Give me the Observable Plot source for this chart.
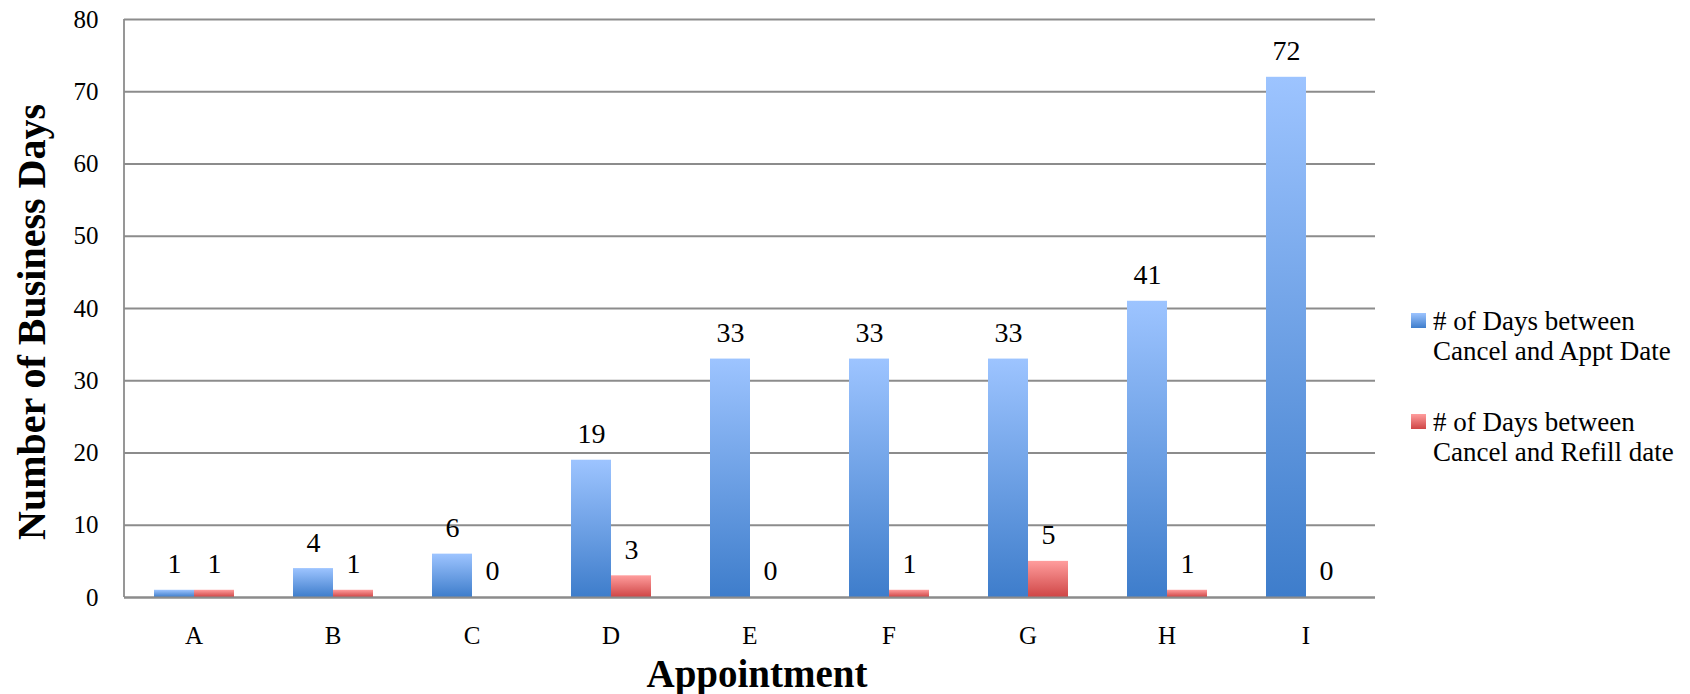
<!DOCTYPE html>
<html>
<head>
<meta charset="utf-8">
<script src="https://cdn.jsdelivr.net/npm/d3@7"></script>
<script src="https://cdn.jsdelivr.net/npm/@observablehq/plot@0.6"></script>
<style>
  html, body { margin: 0; padding: 0; background: #fff; overflow: hidden; }
  #wrap { position: relative; width: 1690px; height: 694px; font-family: "Liberation Serif", serif; }
  #chart svg { display: block; }
  .ytitle { position: absolute; left: 31px; top: 322px; transform: translate(-50%, -50%) rotate(-90deg); font-weight: bold; font-size: 40px; white-space: nowrap; color: #000; }
  .xtitle { position: absolute; left: 757px; top: 673px; transform: translate(-50%, -50%); font-weight: bold; font-size: 39px; white-space: nowrap; color: #000; }
  .legend { position: absolute; left: 1411px; top: 0; font-size: 27px; line-height: 30px; color: #000; }
  .legend .item { position: absolute; padding-left: 22px; white-space: nowrap; }
  .legend .sw { position: absolute; left: 0; top: 7px; width: 15px; height: 15px; }
</style>
</head>
<body>
<div id="wrap">
  <div id="chart"></div>
  <div class="ytitle">Number of Business Days</div>
  <div class="xtitle">Appointment</div>
  <div class="legend" id="legend"></div>
</div>
<script>
const categories = ["A", "B", "C", "D", "E", "F", "G", "H", "I"];
const seriesNames = ["# of Days between Cancel and Appt Date", "# of Days between Cancel and Refill date"];
const apptDays = [1, 4, 6, 19, 33, 33, 33, 41, 72];
const refillDays = [1, 1, 0, 3, 0, 1, 5, 1, 0];
const yTicks = [0, 10, 20, 30, 40, 50, 60, 70, 80];

const seriesKeys = ["appt", "refill"];
const gradIds = {appt: "gradBlue", refill: "gradRed"};

const rows = [];
categories.forEach((c, i) => {
  rows.push({cat: c, series: "appt", value: apptDays[i]});
  rows.push({cat: c, series: "refill", value: refillDays[i]});
});

const chart = Plot.plot({
  width: 1690,
  height: 694,
  marginLeft: 124,
  marginRight: 315,
  marginTop: 19,
  marginBottom: 97,
  style: {fontFamily: "Liberation Serif, serif", color: "#000", background: "#fff"},
  fx: {domain: categories, padding: 0, axis: null, label: null},
  x: {domain: seriesKeys, paddingInner: 0, paddingOuter: 0.72, axis: null},
  y: {domain: [0, 80], axis: null},
  marks: [
    Plot.gridY(yTicks, {stroke: "#8c8c8c", strokeOpacity: 1, strokeWidth: 1.8}),
    Plot.axisY(yTicks, {tickSize: 0, tickPadding: 26, fontSize: 25, label: null}),
    Plot.axisFx({anchor: "bottom", tickSize: 0, tickPadding: 29, fontSize: 25, label: null}),
    Plot.barY(rows, {fx: "cat", x: "series", y: "value", fill: d => `url(#${gradIds[d.series]})`, filter: d => d.value > 0, style: "filter: url(#shadow)"}),
    Plot.text(rows, {fx: "cat", x: "series", y: "value", text: d => String(d.value), dy: -26, fontSize: 28, fill: "#000"}),
    Plot.ruleY([0], {stroke: "#8c8c8c", strokeWidth: 1.8})
  ]
});

document.getElementById("chart").appendChild(chart);

// defs: gradients and shadow
const svg = d3.select(chart);
const defs = svg.insert("defs", ":first-child");
function grad(id, top, bottom) {
  const g = defs.append("linearGradient").attr("id", id).attr("x1", 0).attr("y1", 0).attr("x2", 0).attr("y2", 1);
  g.append("stop").attr("offset", "0%").attr("stop-color", top);
  g.append("stop").attr("offset", "100%").attr("stop-color", bottom);
}
grad("gradBlue", "#9dc4ff", "#3e7dcb");
grad("gradRed", "#ff9d9d", "#cf4646");
const f = defs.append("filter").attr("id", "shadow").attr("x", "-20%").attr("y", "-5%").attr("width", "150%").attr("height", "110%");
f.append("feDropShadow").attr("dx", 2).attr("dy", 0).attr("stdDeviation", 2).attr("flood-color", "#000").attr("flood-opacity", 0.25);

// left axis line, aligned to the scales' ranges
const ys = chart.scale("y");
const fxs = chart.scale("fx");
const x0 = fxs.range[0];
svg.append("line")
  .attr("x1", x0).attr("x2", x0)
  .attr("y1", ys.apply(80)).attr("y2", ys.apply(0))
  .attr("stroke", "#8c8c8c").attr("stroke-width", 1.8);

// legend
const legendColors = {appt: "linear-gradient(#9dc4ff, #3e7dcb)", refill: "linear-gradient(#ff9d9d, #cf4646)"};
const legendTops = [306, 407];
const lg = document.getElementById("legend");
seriesKeys.forEach((k, i) => {
  const item = document.createElement("div");
  item.className = "item";
  item.style.top = legendTops[i] + "px";
  const sw = document.createElement("span");
  sw.className = "sw";
  sw.style.background = legendColors[k];
  item.appendChild(sw);
  const words = seriesNames[i].split(" ");
  item.appendChild(document.createTextNode(words.slice(0, 4).join(" ")));
  item.appendChild(document.createElement("br"));
  item.appendChild(document.createTextNode(words.slice(4).join(" ")));
  lg.appendChild(item);
});
</script>
</body>
</html>
